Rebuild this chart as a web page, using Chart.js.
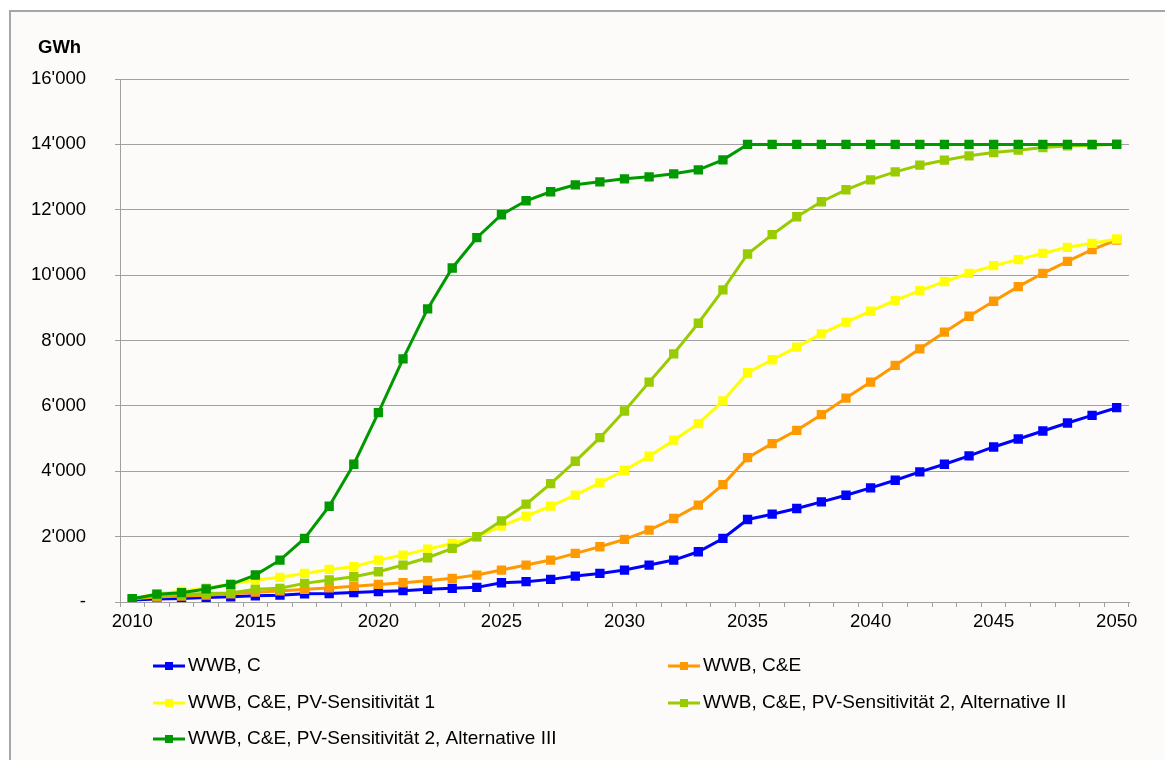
<!DOCTYPE html>
<html>
<head>
<meta charset="utf-8">
<title>PV-Produktion GWh</title>
<script src="https://cdn.jsdelivr.net/npm/chart.js@4.4.0/dist/chart.umd.min.js"></script>
<style>
body { margin: 0; background: #fff; }
canvas { display: block; }
</style>
</head>
<body>
<canvas id="chart" width="1165" height="760"></canvas>
<script>

var years = [2010, 2011, 2012, 2013, 2014, 2015, 2016, 2017, 2018, 2019,
	2020, 2021, 2022, 2023, 2024, 2025, 2026, 2027, 2028, 2029,
	2030, 2031, 2032, 2033, 2034, 2035, 2036, 2037, 2038, 2039,
	2040, 2041, 2042, 2043, 2044, 2045, 2046, 2047, 2048, 2049, 2050];

var labels = ['WWB, C', 'WWB, C&E', 'WWB, C&E, PV-Sensitivität 1',
	'WWB, C&E, PV-Sensitivität 2, Alternative II', 'WWB, C&E, PV-Sensitivität 2, Alternative III'];

var wwbC = [60, 90, 110, 140, 160, 190, 210, 250, 260, 290,
	320, 346, 387, 418, 448, 590, 621, 692, 794, 875,
	977, 1130, 1282, 1537, 1944, 2524, 2687, 2860, 3064, 3267,
	3491, 3725, 3980, 4214, 4469, 4743, 4987, 5231, 5476, 5710, 5944];

var wwbCE = [100, 150, 180, 210, 250, 300, 340, 390, 430, 480,
	539, 590, 651, 723, 824, 977, 1130, 1282, 1486, 1690,
	1914, 2198, 2555, 2962, 3593, 4417, 4845, 5252, 5730, 6239,
	6727, 7237, 7746, 8254, 8743, 9201, 9649, 10056, 10422, 10779, 11074];

var pvSens1 = [100, 250, 330, 430, 540, 672, 754, 875, 997, 1079,
	1282, 1435, 1618, 1791, 1995, 2321, 2626, 2931, 3267, 3644,
	4031, 4458, 4950, 5456, 6148, 7013, 7410, 7796, 8203, 8560,
	8896, 9230, 9527, 9802, 10056, 10290, 10473, 10667, 10850, 10972, 11105];

var pvSens2AltII = [100, 200, 230, 260, 275, 388, 418, 570, 672, 773,
	926, 1130, 1353, 1639, 1995, 2483, 2992, 3623, 4305, 5028,
	5842, 6727, 7593, 8529, 9548, 10646, 11237, 11786, 12244, 12611,
	12916, 13160, 13364, 13517, 13649, 13750, 13823, 13903, 13954, 13975, 14005];

var pvSens2AltIII = [100, 240, 285, 400, 540, 825, 1280, 1945, 2930, 4214,
	5792, 7440, 8967, 10219, 11145, 11847, 12275, 12550, 12763, 12855,
	12946, 13008, 13100, 13221, 13527, 14000, 14000, 14000, 14000, 14000,
	14000, 14000, 14000, 14000, 14000, 14000, 14000, 14000, 14000, 14000, 14000];

var colors = ['#0000ff', '#ff9900', '#ffff00', '#99cc00', '#009900'];

var font = '"Liberation Sans", Arial, sans-serif';
var gridGrey = '#a0a0a0';

// 16000 -> 16'000
function swissNum(v){
	return String(v).replace(/\B(?=(\d{3})+(?!\d))/g, "'");
}

function makeSet(i, values){
	return {
		label: labels[i],
		data: values,
		borderColor: colors[i],
		backgroundColor: colors[i],
		pointBackgroundColor: colors[i],
		pointBorderWidth: 0,
		pointStyle: 'rect',
		pointRadius: 6.6,
		pointHoverRadius: 6.6,
		borderWidth: 3,
		tension: 0,
		order: 5 - i // later series on top, like the original
	};
}

var background = {
	id: 'background',
	beforeDraw: function(chart){
		var ctx = chart.ctx;
		ctx.save();
		ctx.fillStyle = '#ffffff';
		ctx.fillRect(0, 0, chart.width, chart.height);
		ctx.fillStyle = '#fcfbfa';
		ctx.fillRect(10, 11, chart.width, chart.height);
		ctx.strokeStyle = '#a6a6a6';
		ctx.lineWidth = 2;
		ctx.strokeRect(10, 11, chart.width + 10, chart.height + 10);
		ctx.restore();
	}
};

var unitLabel = {
	id: 'unitLabel',
	afterDraw: function(chart){
		var ctx = chart.ctx;
		ctx.save();
		ctx.font = 'bold 18.5px ' + font;
		ctx.fillStyle = '#000';
		ctx.textBaseline = 'middle';
		ctx.fillText('GWh', 38, 48);
		ctx.restore();
	}
};

// two-column legend under the chart
var gridLegend = {
	id: 'gridLegend',
	afterDraw: function(chart){
		var ctx = chart.ctx;
		var colX = [153, 668];
		var rowY = [666, 703, 739];
		ctx.save();
		ctx.font = '19px ' + font;
		ctx.textBaseline = 'middle';
		chart.data.datasets.forEach(function(ds, i){
			var x = colX[i % 2];
			var y = rowY[Math.floor(i / 2)];
			ctx.strokeStyle = ds.borderColor;
			ctx.lineWidth = 3;
			ctx.beginPath();
			ctx.moveTo(x, y);
			ctx.lineTo(x + 32, y);
			ctx.stroke();
			ctx.fillStyle = ds.pointBackgroundColor;
			ctx.fillRect(x + 12, y - 4, 8, 8);
			ctx.fillStyle = '#000';
			ctx.fillText(ds.label, x + 35, y);
		});
		ctx.restore();
	}
};

var ctx = document.getElementById('chart');
var chart = new Chart(ctx, {
	type: 'line',
	data: {
		labels: years,
		datasets: [
			makeSet(0, wwbC),
			makeSet(1, wwbCE),
			makeSet(2, pvSens1),
			makeSet(3, pvSens2AltII),
			makeSet(4, pvSens2AltIII)
		]
	},
	options: {
		responsive: false,
		animation: false,
		layout: {
			padding: { left: 10, right: 36, top: 79, bottom: 118 }
		},
		plugins: {
			legend: { display: false },
			tooltip: { enabled: false }
		},
		scales: {
			x: {
				offset: true,
				grid: { offset: true, drawOnChartArea: false, color: gridGrey, tickLength: 5 },
				border: { color: gridGrey },
				ticks: {
					autoSkip: false,
					maxRotation: 0,
					padding: 4,
					color: '#000',
					font: { family: font, size: 18.5 },
					callback: function(v, i){
						return years[i] % 5 === 0 ? String(years[i]) : '';
					}
				},
				afterFit: function(s){ s.height = 40; }
			},
			y: {
				min: 0,
				max: 16000,
				ticks: {
					stepSize: 2000,
					padding: 29,
					color: '#000',
					font: { family: font, size: 18.5 },
					callback: function(v){
						return v === 0 ? '-' : swissNum(v);
					}
				},
				grid: { color: gridGrey, tickLength: 5 },
				border: { color: gridGrey },
				afterFit: function(s){ s.width = 110; }
			}
		}
	},
	plugins: [background, unitLabel, gridLegend]
});

</script>
</body>
</html>
